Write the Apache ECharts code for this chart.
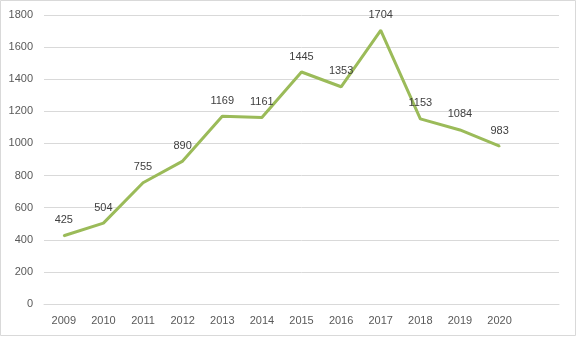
<!DOCTYPE html>
<html><head><meta charset="utf-8">
<script src="https://cdn.jsdelivr.net/npm/echarts@6/dist/echarts.min.js"></script>
<style>html,body{margin:0;padding:0;background:#fff}#c{width:577px;height:337px}</style>
</head><body><div id="c"></div>
<script>
const categories = ['2009','2010','2011','2012','2013','2014','2015','2016','2017','2018','2019','2020',''];
const values = [425,504,755,890,1169,1161,1445,1353,1704,1153,1084,983];
const yTicks = {min:0, max:1800, interval:200};

const chart = echarts.init(document.getElementById('c'), null, {renderer:'canvas'});
chart.setOption({
  animation:false,
  backgroundColor:'#fff',
  graphic:[{type:'rect', shape:{x:0.5,y:0.5,width:575,height:335}, style:{fill:'none', stroke:'#d9d9d9', lineWidth:1}, silent:true}],
  grid:{left:44, right:18, top:15, bottom:33},
  xAxis:{type:'category', data:categories, boundaryGap:true,
    axisLine:{show:true, lineStyle:{color:'#d9d9d9'}}, axisTick:{show:false},
    axisLabel:{color:'#595959', fontFamily:'Liberation Sans', fontSize:11, margin:11}},
  yAxis:{type:'value', min:yTicks.min, max:yTicks.max, interval:yTicks.interval,
    axisLine:{show:false}, axisTick:{show:false},
    splitLine:{lineStyle:{color:'#d9d9d9'}},
    axisLabel:{color:'#595959', fontFamily:'Liberation Sans', fontSize:11, margin:11, formatter:v=>String(v)}},
  series:[{type:'line', data:values, symbol:'circle', symbolSize:2, showSymbol:true, showAllSymbol:true,
    itemStyle:{color:'#9bbb59', borderWidth:0},
    lineStyle:{color:'#9bbb59', width:3},
    labelLayout:{hideOverlap:false},
    label:{show:true, position:'top', distance:9, color:'#404040', fontFamily:'Liberation Sans', fontSize:11}}]
});
</script></body></html>
